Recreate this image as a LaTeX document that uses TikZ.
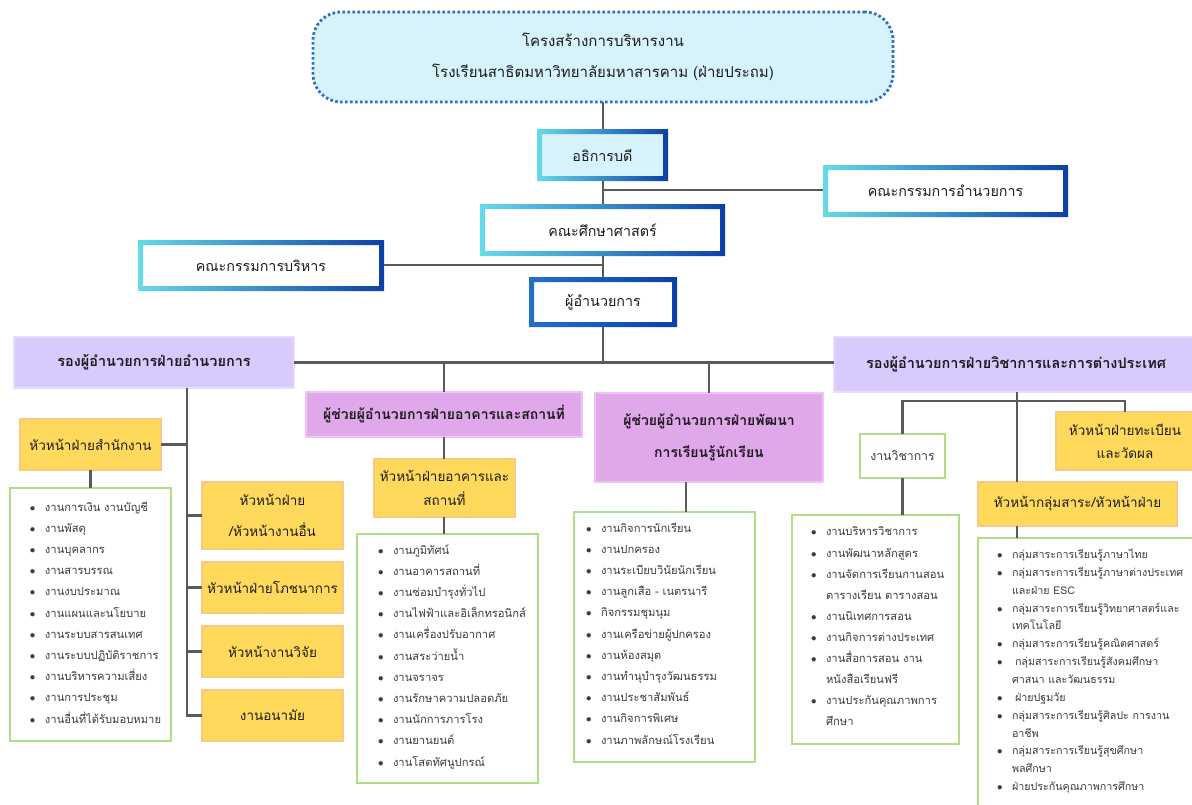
\documentclass[tikz,border=0pt]{standalone}
\usepackage{fontspec}
\setmainfont{Loma}[Script=Thai]
\usetikzlibrary{calc}
\definecolor{titlecyan}{HTML}{D6F3FC}
\definecolor{dotblue}{HTML}{2E6EC4}
\definecolor{gcyan}{HTML}{66DAEA}
\definecolor{gblue}{HTML}{0C3FA6}
\definecolor{gmid}{HTML}{2470C8}
\definecolor{lav}{HTML}{D9CAFD}
\definecolor{lavb}{HTML}{E6DCFF}
\definecolor{orch}{HTML}{E1A7EB}
\definecolor{orchb}{HTML}{EDC4F3}
\definecolor{yel}{HTML}{FFD95C}
\definecolor{yelb}{HTML}{F9C886}
\definecolor{grn}{HTML}{AEDF84}
\definecolor{linegray}{HTML}{5A5A5A}
\definecolor{txt}{HTML}{1C1C1C}
\definecolor{ltxt}{HTML}{3C3C3C}
\newcommand\bx[7]{\node[#2, minimum width={(#5-#3)*1pt}, minimum height={(#6-#4)*1pt}] (#1) at ({(#3+#5)/2},{(#4+#6)/2}) {#7};}
\newcommand\gframe[4]{\shade[left color=#3,right color=#4,even odd rule] (#1.north west) rectangle (#1.south east) ([shift={(#2,#2)}]#1.north west) rectangle ([shift={(-#2,-#2)}]#1.south east);}
\newcommand\bul{\makebox[15pt][l]{$\bullet$}}
\newcommand\cnt{\hspace*{15pt}}
\begin{document}
\begin{tikzpicture}[x=1pt,y=-1pt,
  every node/.style={inner sep=0pt, outer sep=0pt, text=txt},
  conn/.style={draw=linegray, line width=2.4pt},
  topbox/.style={fill=white, font=\fontsize{14.3}{18}\selectfont},
  cyanbox/.style={fill=titlecyan, font=\fontsize{14.3}{18}\selectfont},
  lavbox/.style={fill=lav, draw=lavb, line width=2pt, font=\bfseries\fontsize{14.5}{18}\selectfont},
  orchbox/.style={fill=orch, draw=orchb, line width=1.5pt, align=center, font=\bfseries\fontsize{14}{32}\selectfont},
  yelbox/.style={fill=yel, draw=yelb, line width=1.5pt, align=center, font=\fontsize{13.5}{31}\selectfont},
  listbox/.style={fill=white, draw=grn, line width=1.5pt},
  listtext/.style={anchor=north west, align=left, text=ltxt, font=\fontsize{11.2}{21.2}\selectfont},
]
\useasboundingbox (0,0) rectangle (1192,804);
\clip (0,0) rectangle (1192,804);
\fill[white] (0,0) rectangle (1192,804);

% ---- top ----
\bx{title}{fill=titlecyan, draw=dotblue, line width=2.8pt, dash pattern=on 2.6pt off 2.4pt, rounded corners=28pt, align=center, font=\fontsize{15}{31}\selectfont}{313}{12}{893}{102}{โครงสร้างการบริหารงาน\\โรงเรียนสาธิตมหาวิทยาลัยมหาสารคาม (ฝ่ายประถม)}
\bx{acad}{cyanbox}{537}{129}{668}{181}{อธิการบดี}
\bx{comm1}{topbox}{823}{165}{1068}{217}{คณะกรรมการอำนวยการ}
\bx{fac}{topbox}{480}{204}{725}{256}{คณะศึกษาศาสตร์}
\bx{comm2}{topbox}{138}{240}{384}{291}{คณะกรรมการบริหาร}
\bx{dir}{topbox}{529}{277}{677}{327}{ผู้อำนวยการ}
\gframe{acad}{5}{gcyan}{gblue}
\gframe{comm1}{5}{gcyan}{gblue}
\gframe{fac}{5}{gcyan}{gblue}
\gframe{comm2}{5}{gcyan}{gblue}
\gframe{dir}{5}{gmid}{gblue}

% ---- deputies ----
\bx{depL}{lavbox}{14}{337}{294}{388}{รองผู้อำนวยการฝ่ายอำนวยการ}
\bx{depR}{lavbox}{834}{337}{1198}{392}{รองผู้อำนวยการฝ่ายวิชาการและการต่างประเทศ}
\bx{astB}{orchbox}{306}{392}{582}{437}{ผู้ช่วยผู้อำนวยการฝ่ายอาคารและสถานที่}
\bx{astD}{orchbox}{595}{393}{823}{482}{ผู้ช่วยผู้อำนวยการฝ่ายพัฒนา\\การเรียนรู้นักเรียน}

% ---- yellow heads ----
\bx{hOff}{yelbox}{20}{419}{161}{470}{หัวหน้าฝ่ายสำนักงาน}
\bx{hOth}{yelbox}{202}{482}{343}{549}{หัวหน้าฝ่าย\\/หัวหน้างานอื่น}
\bx{hNut}{yelbox}{202}{562}{343}{613}{หัวหน้าฝ่ายโภชนาการ}
\bx{hRes}{yelbox}{202}{626}{343}{677}{หัวหน้างานวิจัย}
\bx{hHlt}{yelbox}{202}{690}{343}{741}{งานอนามัย}
\bx{hBld}{yelbox, font=\fontsize{13.5}{24}\selectfont}{374}{459}{515}{517}{หัวหน้าฝ่ายอาคารและ\\สถานที่}
\bx{hReg}{yelbox, font=\fontsize{13.5}{23}\selectfont}{1056}{412}{1194}{470}{หัวหน้าฝ่ายทะเบียน\\และวัดผล}
\bx{hGrp}{yelbox}{978}{482}{1177}{526}{หัวหน้ากลุ่มสาระ/หัวหน้าฝ่าย}
\bx{acW}{listbox, text=ltxt, font=\fontsize{12.3}{15}\selectfont}{860}{434}{945}{478}{งานวิชาการ}

% ---- list boxes ----
\bx{lOff}{listbox}{10}{488}{171}{741}{}
\bx{lBld}{listbox}{357}{534}{538}{783}{}
\bx{lDev}{listbox}{574}{512}{755}{762}{}
\bx{lAc}{listbox}{792}{515}{959}{744}{}
\bx{lGrp}{listbox}{978}{538}{1215}{830}{}

\node[listtext] (tOff) at (30,496.2) {\strut\bul งานการเงิน งานบัญชี\\\bul งานพัสดุ\\\bul งานบุคลากร\\\bul งานสารบรรณ\\\bul งานงบประมาณ\\\bul งานแผนและนโยบาย\\\bul งานระบบสารสนเทศ\\\bul งานระบบปฏิบัติราชการ\\\bul งานบริหารความเสี่ยง\\\bul งานการประชุม\\\bul งานอื่นที่ได้รับมอบหมาย};
\node[listtext] (tBld) at (378,539.2) {\strut\bul งานภูมิทัศน์\\\bul งานอาคารสถานที่\\\bul งานซ่อมบำรุงทั่วไป\\\bul งานไฟฟ้าและอิเล็กทรอนิกส์\\\bul งานเครื่องปรับอากาศ\\\bul งานสระว่ายน้ำ\\\bul งานจราจร\\\bul งานรักษาความปลอดภัย\\\bul งานนักการภารโรง\\\bul งานยานยนต์\\\bul งานโสตทัศนูปกรณ์};
\node[listtext] (tDev) at (586,517.2) {\strut\bul งานกิจการนักเรียน\\\bul งานปกครอง\\\bul งานระเบียบวินัยนักเรียน\\\bul งานลูกเสือ - เนตรนารี\\\bul กิจกรรมชุมนุม\\\bul งานเครือข่ายผู้ปกครอง\\\bul งานห้องสมุด\\\bul งานทำนุบำรุงวัฒนธรรม\\\bul งานประชาสัมพันธ์\\\bul งานกิจการพิเศษ\\\bul งานภาพลักษณ์โรงเรียน};
\node[listtext, font=\fontsize{11.2}{21.1}\selectfont] (tAc) at (811,521.2) {\strut\bul งานบริหารวิชาการ\\\bul งานพัฒนาหลักสูตร\\\bul งานจัดการเรียนกานสอน\\\cnt ตารางเรียน ตารางสอน\\\bul งานนิเทศการสอน\\\bul งานกิจการต่างประเทศ\\\bul งานสื่อการสอน งาน\\\cnt หนังสือเรียนฟรี\\\bul งานประกันคุณภาพการ\\\cnt ศึกษา};
\node[listtext, font=\fontsize{10.7}{17.85}\selectfont] (tGrp) at (997,546) {\strut\bul กลุ่มสาระการเรียนรู้ภาษาไทย\\\bul กลุ่มสาระการเรียนรู้ภาษาต่างประเทศ\\\cnt และฝ่าย ESC\\\bul กลุ่มสาระการเรียนรู้วิทยาศาสตร์และ\\\cnt เทคโนโลยี\\\bul กลุ่มสาระการเรียนรู้คณิตศาสตร์\\\bul\hspace{3pt}กลุ่มสาระการเรียนรู้สังคมศึกษา\\\cnt ศาสนา และวัฒนธรรม\\\bul\hspace{3pt}ฝ่ายปฐมวัย\\\bul กลุ่มสาระการเรียนรู้ศิลปะ การงาน\\\cnt อาชีพ\\\bul กลุ่มสาระการเรียนรู้สุขศึกษา\\\cnt พลศึกษา\\\bul ฝ่ายประกันคุณภาพการศึกษา};

% ---- junction coordinates ----
\coordinate (jTop) at (603,190);
\coordinate (jMid) at (603,265);
\coordinate (xL) at (187,0);
\coordinate (xD) at (686,0);
\coordinate (xR) at (1017,0);
\coordinate (yR) at (0,401);

% ---- connectors ----
\draw[conn] (title.south -| jTop) -- (acad.north -| jTop);
\draw[conn] (acad.south -| jTop) -- (fac.north -| jTop);
\draw[conn] (jTop) -- (jTop -| comm1.west);
\draw[conn] (fac.south -| jTop) -- (dir.north -| jTop);
\draw[conn] (comm2.east |- jMid) -- (jMid);
\draw[conn] (dir.south -| jTop) -- (jTop |- depL.east);
\draw[conn] (depL.east) -- (depL.east -| depR.west);
\draw[conn] (depL.east -| astB.north) -- (astB.north);
\draw[conn] (depL.east -| astD.north) -- (astD.north);
\draw[conn] (astB.south) -- (hBld.north -| astB.south);
\draw[conn] (hBld.south -| astB.south) -- (lBld.north -| astB.south);
\draw[conn] (astD.south -| xD) -- (lDev.north -| xD);
\draw[conn] (depL.south -| xL) -- (xL |- hHlt.west) -- (hHlt.west);
\draw[conn] (hOff.east) -- (hOff.east -| xL);
\draw[conn] (xL |- hOth.west) -- (hOth.west);
\draw[conn] (xL |- hNut.west) -- (hNut.west);
\draw[conn] (xL |- hRes.west) -- (hRes.west);
\draw[conn] (hOff.south) -- (lOff.north -| hOff.south);
\draw[conn] (depR.south -| xR) -- (hGrp.north -| xR);
\draw[conn] (acW.north) -- (acW.north |- yR) -- (hReg.north |- yR) -- (hReg.north);
\draw[conn] (acW.south) -- (lAc.north -| acW.south);
\draw[conn] (hGrp.south -| xR) -- (lGrp.north -| xR);
\end{tikzpicture}
\end{document}
